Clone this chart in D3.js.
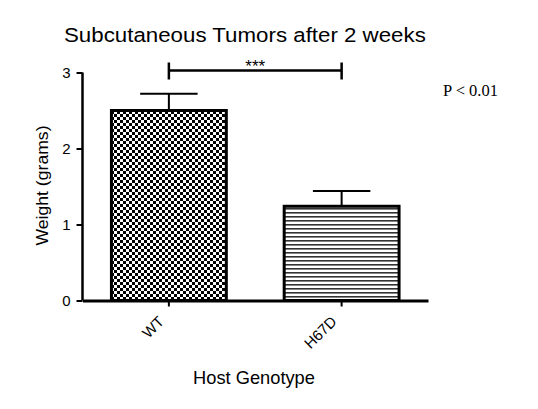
<!DOCTYPE html>
<html>
<head>
<meta charset="utf-8">
<script src="https://cdn.jsdelivr.net/npm/d3@7"></script>
<style>
  body { margin: 0; background: #fff; }
  text { font-family: Arial, "Liberation Sans", sans-serif; fill: #000; }
</style>
</head>
<body>
<div id="chart"></div>
<script>
var categories = ["WT", "H67D"];
var means = [2.5, 1.24];
var errors = [0.22, 0.2];
var yTicks = [0, 1, 2, 3];
var patterns = ["checker", "hlines"];

var width = 538, height = 409;
var margin = {top: 72.5, left: 82.5, right: 110, bottom: 108.5};

var svg = d3.select("#chart").append("svg")
    .attr("width", width)
    .attr("height", height);

var defs = svg.append("defs");

// checkerboard fill
var checker = defs.append("pattern")
    .attr("id", "checker")
    .attr("patternUnits", "userSpaceOnUse")
    .attr("width", 6).attr("height", 6);
checker.append("rect").attr("width", 6).attr("height", 6).attr("fill", "#fff");
checker.append("rect").attr("width", 3).attr("height", 3).attr("fill", "#000");
checker.append("rect").attr("x", 3).attr("y", 3).attr("width", 3).attr("height", 3).attr("fill", "#000");

// horizontal stripes
var hlines = defs.append("pattern")
    .attr("id", "hlines")
    .attr("patternUnits", "userSpaceOnUse")
    .attr("width", 8).attr("height", 4);
hlines.append("rect").attr("width", 8).attr("height", 4).attr("fill", "#fff");
hlines.append("rect").attr("y", 0).attr("width", 8).attr("height", 1.6).attr("fill", "#333");

var x = d3.scaleBand()
    .domain(categories)
    .range([margin.left, width - margin.right])
    .paddingInner(0.335)
    .paddingOuter(0.1675);

var y = d3.scaleLinear()
    .domain([0, 3])
    .range([height - margin.bottom, margin.top]);

var data = categories.map(function (c, i) {
    return {name: c, mean: means[i], err: errors[i], pat: patterns[i]};
});

// stretch a text horizontally so it fills the given width (glyphs are wider in the original)
function fitWidth(sel, w) {
    var len = sel.node().getComputedTextLength();
    return w / len;
}

// title
var title = svg.append("text")
    .style("font-size", "19.5px")
    .text("Subcutaneous Tumors after 2 weeks");
title.attr("transform", "translate(64,42) scale(" + fitWidth(title, 362) + ",1)");

// bars
svg.selectAll(".bar")
    .data(data)
    .enter()
    .append("rect")
    .attr("x", function (d) { return x(d.name); })
    .attr("y", function (d) { return y(d.mean); })
    .attr("width", x.bandwidth())
    .attr("height", function (d) { return y(0) - y(d.mean); })
    .attr("fill", function (d) { return "url(#" + d.pat + ")"; })
    .attr("stroke", "#000")
    .attr("stroke-width", 3);

// error bars (upper only)
var capW = x.bandwidth() / 2;
svg.selectAll(".err")
    .data(data)
    .enter()
    .append("path")
    .attr("d", function (d) {
        var cx = x(d.name) + x.bandwidth() / 2;
        return "M" + cx + "," + y(d.mean) + "V" + y(d.mean + d.err) +
            "M" + (cx - capW / 2) + "," + y(d.mean + d.err) + "H" + (cx + capW / 2);
    })
    .attr("fill", "none")
    .attr("stroke", "#000")
    .attr("stroke-width", 2);

// y axis
var yAxis = svg.append("g")
    .attr("transform", "translate(" + margin.left + ",0)")
    .call(d3.axisLeft(y).tickValues(yTicks).tickSize(6).tickPadding(6).tickFormat(d3.format("d")));
yAxis.select(".domain").attr("stroke-width", 2.5).attr("d", "M0," + y(3) + "V" + y(0));
yAxis.selectAll(".tick line").attr("stroke-width", 2);
yAxis.selectAll(".tick text").style("font-size", "15px").attr("font-family", null);

// x axis
var xAxis = svg.append("g")
    .attr("transform", "translate(0," + y(0) + ")")
    .call(d3.axisBottom(x).tickSize(6).tickSizeOuter(0));
xAxis.select(".domain").attr("stroke-width", 3);
xAxis.selectAll(".tick line").attr("stroke-width", 2);
xAxis.selectAll(".tick text")
    .attr("font-family", null)
    .attr("y", 0)
    .attr("dy", 0)
    .style("font-size", "15px")
    .style("text-anchor", "end")
    .attr("transform", "translate(-4,22) rotate(-45)");

// axis titles
svg.append("text")
    .attr("transform", "translate(48," + ((y(0) + y(3)) / 2 - 1) + ") rotate(-90)")
    .attr("textLength", 120)
    .attr("lengthAdjust", "spacingAndGlyphs")
    .style("text-anchor", "middle")
    .style("font-size", "16.5px")
    .text("Weight (grams)");

var xTitle = svg.append("text")
    .style("text-anchor", "middle")
    .style("font-size", "17.5px")
    .text("Host Genotype");
xTitle.attr("transform", "translate(254,384) scale(" + fitWidth(xTitle, 122) + ",1)");

// significance bracket
var x1 = x(categories[0]) + x.bandwidth() / 2, x2 = x(categories[1]) + x.bandwidth() / 2;
var by = 70.5;
svg.append("path")
    .attr("d", "M" + x1 + "," + (by - 8) + "V" + (by + 9) + "M" + x1 + "," + by + "H" + x2 +
        "M" + x2 + "," + (by - 8) + "V" + (by + 9))
    .attr("fill", "none")
    .attr("stroke", "#000")
    .attr("stroke-width", 2.5);
svg.append("text")
    .attr("x", (x1 + x2) / 2)
    .attr("y", by + 1.5)
    .style("text-anchor", "middle")
    .style("font-size", "17px")
    .text("***");

svg.append("text")
    .attr("x", 443)
    .attr("y", 96)
    .style("font-family", "'Liberation Serif', 'Times New Roman', serif")
    .style("font-size", "16.5px")
    .text("P < 0.01");
</script>
</body>
</html>
